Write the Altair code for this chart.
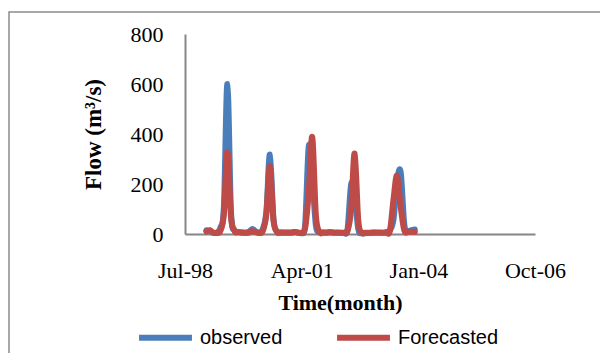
import altair as alt
import pandas as pd

months = pd.date_range("1999-01-01", "2003-12-01", freq="MS")
observed = [
    15, 12, 5, 6, 25, 110, 600, 90, 15, 8, 6, 5,
    8, 20, 10, 5, 20, 90, 318, 60, 10, 6, 5, 5,
    5, 8, 6, 5, 40, 352, 230, 35, 8, 6, 5, 6,
    5, 6, 5, 5, 20, 200, 160, 20, 3, 3, 4, 5,
    5, 6, 5, 8, 15, 60, 210, 248, 40, 12, 15, 18,
]
forecasted = [
    10, 15, 5, 5, 12, 80, 328, 70, 12, 8, 6, 5,
    6, 12, 8, 5, 12, 80, 272, 55, 8, 6, 6, 6,
    6, 8, 5, 5, 25, 170, 388, 75, 8, 6, 6, 8,
    6, 5, 5, 5, 12, 100, 322, 55, 6, 5, 5, 6,
    6, 5, 5, 6, 12, 140, 234, 110, 15, 8, 10, 8,
]
series_names = ["observed", "Forecasted"]
series_colors = ["#4A7EBB", "#BE4B48"]
y_ticks = [0, 200, 400, 600, 800]

df = pd.DataFrame({
    "date": list(months) * 2,
    "flow": observed + forecasted,
    "series": [series_names[0]] * len(observed) + [series_names[1]] * len(forecasted),
})

x_domain = [alt.DateTime(year=1998, month=7, date=1), alt.DateTime(year=2006, month=10, date=1)]
x_ticks = [
    alt.DateTime(year=1998, month=7, date=1),
    alt.DateTime(year=2001, month=4, date=1),
    alt.DateTime(year=2004, month=1, date=1),
    alt.DateTime(year=2006, month=10, date=1),
]

color = alt.Color(
    "series:N",
    scale=alt.Scale(domain=series_names, range=series_colors),
    sort=series_names,
    legend=alt.Legend(
        title=None, orient="none", direction="horizontal",
        legendX=-49, legendY=274, padding=0,
        symbolType="stroke", symbolSize=2800, symbolStrokeWidth=6,
        labelFont="Liberation Sans", labelFontSize=20, labelColor="#000000",
        labelOffset=5, columnPadding=42,
    ),
)

x = alt.X(
    "date:T",
    scale=alt.Scale(domain=x_domain),
    axis=alt.Axis(
        values=x_ticks, format="%b-%y", title="Time(month)", grid=False, ticks=False,
        domainColor="#868686", domainWidth=2, labelPadding=26,
        labelFont="Liberation Serif", labelFontSize=22, labelColor="#000000",
        titleFont="Liberation Serif", titleFontSize=22, titleFontWeight="bold",
        titleColor="#000000", titleX=155, titleY=68, titleBaseline="middle",
        labelOverlap=False, labelFlush=False,
    ),
)
y = alt.Y(
    "flow:Q",
    scale=alt.Scale(domain=[0, 800], nice=False),
    axis=alt.Axis(
        values=y_ticks, title="Flow (m³/s)", grid=False, ticks=False,
        domainColor="#868686", domainWidth=2, labelPadding=22,
        labelFont="Liberation Serif", labelFontSize=22, labelColor="#000000",
        titleFont="Liberation Serif", titleFontSize=23, titleFontWeight="bold",
        titleColor="#000000", titleX=-92, titleY=100, titleBaseline="middle",
    ),
)

frame = alt.Chart(pd.DataFrame({"k": [0]})).mark_rect(
    fill=None, stroke="#8C8C8C", strokeWidth=1.5
).encode(
    x=alt.value(-176), x2=alt.value(700), y=alt.value(-22), y2=alt.value(400)
)

line_style = dict(strokeWidth=6, strokeCap="round", strokeJoin="round", interpolate="cardinal")

obs_line = alt.Chart(df).transform_filter(alt.datum.series == series_names[0]).mark_line(
    **line_style
).encode(x=x, y=y, color=color)

fc_line = alt.Chart(df).transform_filter(alt.datum.series == series_names[1]).mark_line(
    **line_style
).encode(x=x, y=y, color=color)

chart = alt.layer(frame, obs_line, fc_line).properties(
    width=350, height=200,
    autosize=alt.AutoSizeParams(type="none"),
    padding={"left": 185, "top": 34, "right": 65, "bottom": 119},
    background="#FFFFFF",
).configure_view(stroke=None)

chart.save("out.html", embed_options={"renderer": "svg", "actions": False})
